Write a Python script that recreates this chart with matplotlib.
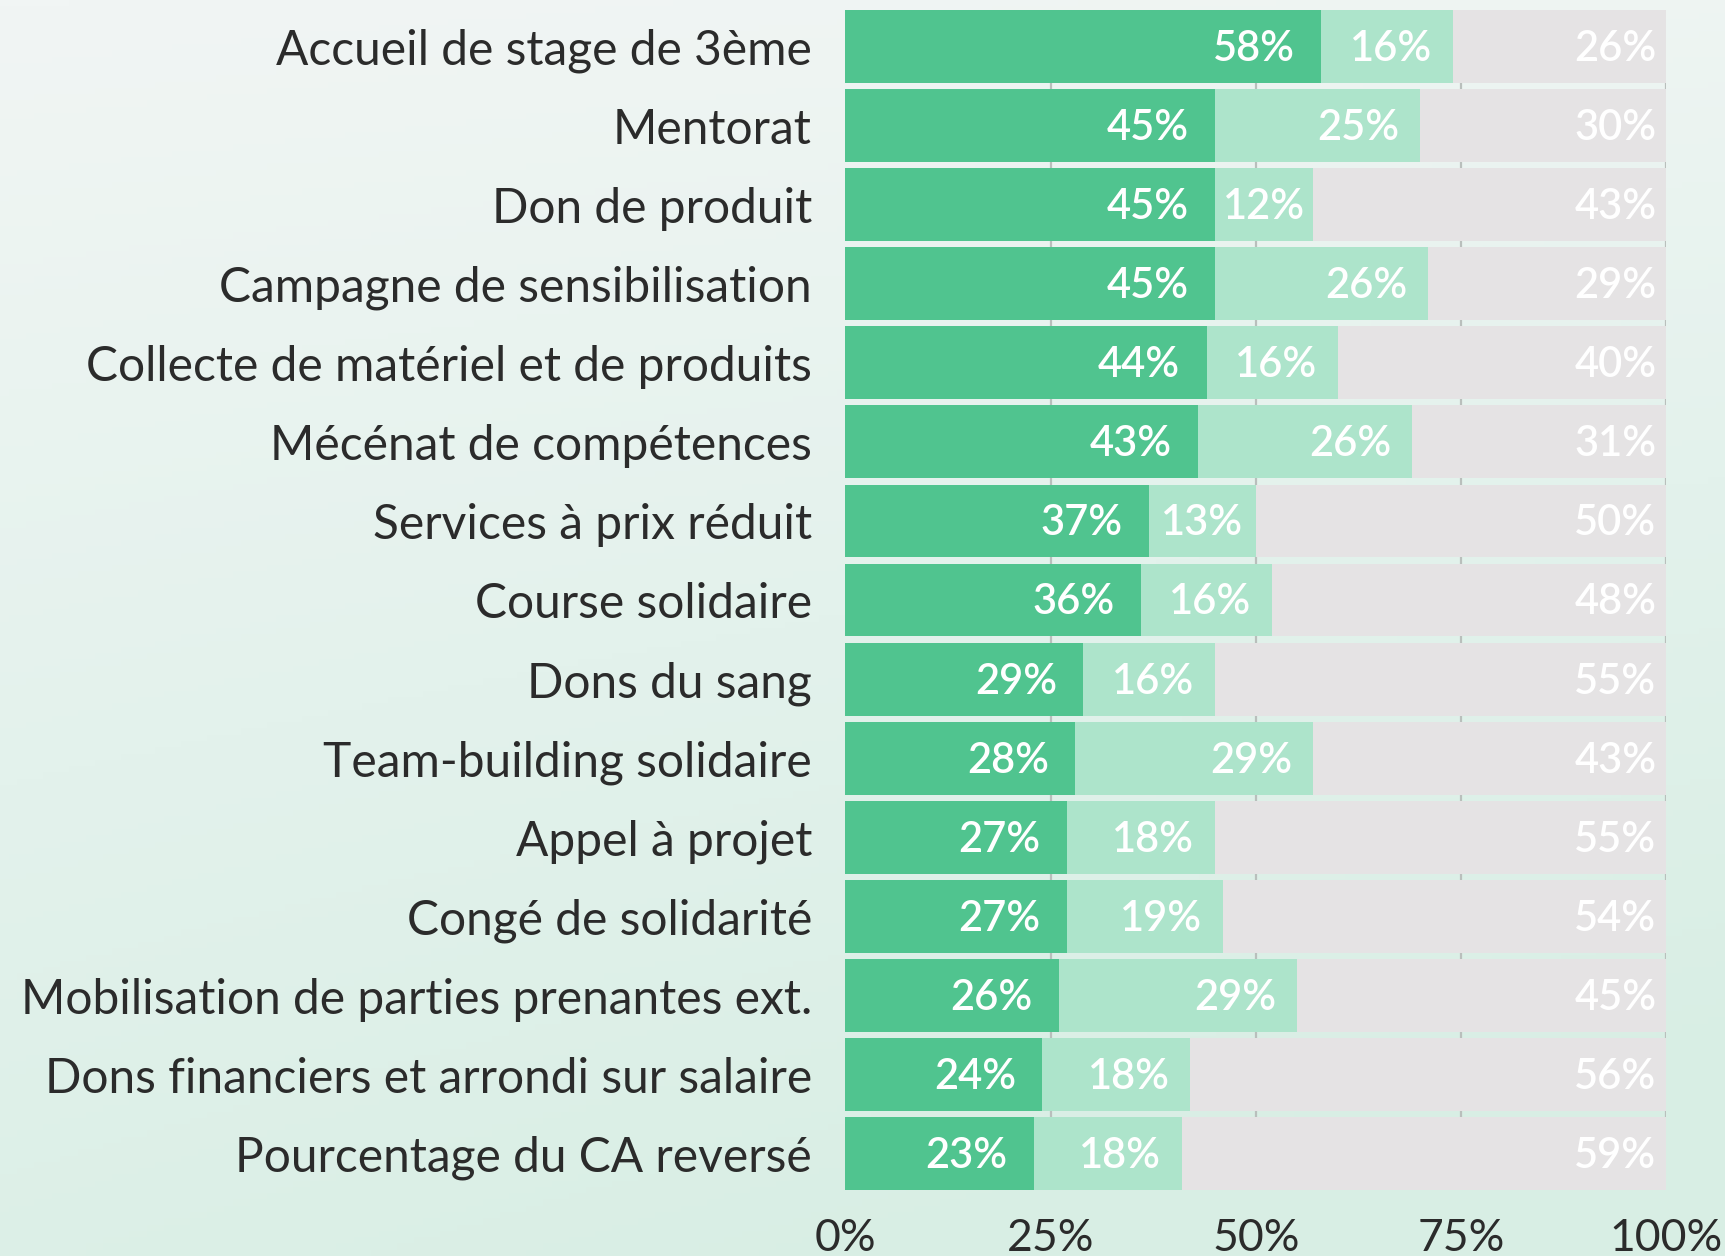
import numpy as np
import matplotlib
matplotlib.use("Agg")
import matplotlib.pyplot as plt
from matplotlib.colors import LinearSegmentedColormap

plt.rcParams['font.family'] = ['Lato', 'DejaVu Sans']

categories = [
    "Accueil de stage de 3ème",
    "Mentorat",
    "Don de produit",
    "Campagne de sensibilisation",
    "Collecte de matériel et de produits",
    "Mécénat de compétences",
    "Services à prix réduit",
    "Course solidaire",
    "Dons du sang",
    "Team-building solidaire",
    "Appel à projet",
    "Congé de solidarité",
    "Mobilisation de parties prenantes ext.",
    "Dons financiers et arrondi sur salaire",
    "Pourcentage du CA reversé",
]
oui = [58, 45, 45, 45, 44, 43, 37, 36, 29, 28, 27, 27, 26, 24, 23]
envisage = [16, 25, 12, 26, 16, 26, 13, 16, 16, 29, 18, 19, 29, 18, 18]
non = [26, 30, 43, 29, 40, 31, 50, 48, 55, 43, 55, 54, 45, 56, 59]
total = 100
xticks = [0, 25, 50, 75, 100]

c_dark = "#50c48f"
c_light = "#ade4cb"
c_grey = "#e5e3e4"
c_text = "#2b2b2b"

fig = plt.figure(figsize=(17.25, 12.56), dpi=100)

# soft mint background gradient
bg = fig.add_axes([0, 0, 1, 1], zorder=-10)
yy, xx = np.mgrid[0:1:200j, 0:1:200j]
t = np.clip(0.8 * yy + 0.25 * xx * yy + 0.1 * xx, 0, 1)
cmap = LinearSegmentedColormap.from_list("bg", ["#f1f5f4", "#e3f2ec", "#d8eee4"])
bg.imshow(t, cmap=cmap, aspect="auto", extent=[0, 1, 0, 1], origin="upper")
bg.axis("off")

ax = fig.add_axes([0.49, 0.0525, 0.476, 0.9395])
ax.set_facecolor("none")

y = np.arange(len(categories))
h = 0.92
oui_a = np.array(oui)
env_a = np.array(envisage)
non_a = np.array(non)

for x in xticks[1:]:
    ax.axvline(x, color="#b9bfbc", lw=1.6, zorder=0)

# full-width track behind the stacked segments
ax.barh(y, total, height=h, color=c_grey, zorder=1)
ax.barh(y, oui_a, height=h, color=c_dark, zorder=2)
ax.barh(y, env_a, left=oui_a, height=h, color=c_light, zorder=2)
ax.barh(y, non_a, left=oui_a + env_a, height=h, color=c_grey, zorder=2)

lab_kw = dict(color="white", fontsize=30, fontweight="semibold",
              va="center", ha="right", zorder=3)
for i in range(len(categories)):
    end1 = oui[i]
    ax.text(end1 - min(3.2, (oui[i] - 10) / 2), y[i] + 0.03, f"{oui[i]}%", **lab_kw)
    end2 = oui[i] + envisage[i]
    ax.text(end2 - min(2.5, (envisage[i] - 10) / 2), y[i] + 0.03, f"{envisage[i]}%", **lab_kw)
    ax.text(total - 1.2, y[i] + 0.03, f"{non[i]}%", **lab_kw)

ax.set_xlim(0, total)
ax.set_ylim(len(categories) - 1 + h / 2, -h / 2)
ax.set_yticks(y)
ax.set_yticklabels(categories, fontsize=34.5, color=c_text)
ax.set_xticks(xticks)
ax.set_xticklabels([f"{v}%" for v in xticks], fontsize=32, color=c_text)
ax.tick_params(axis="y", length=0, pad=24)
ax.tick_params(axis="x", length=0, pad=20)
for s in ax.spines.values():
    s.set_visible(False)

fig.savefig("out.png", dpi=100)
